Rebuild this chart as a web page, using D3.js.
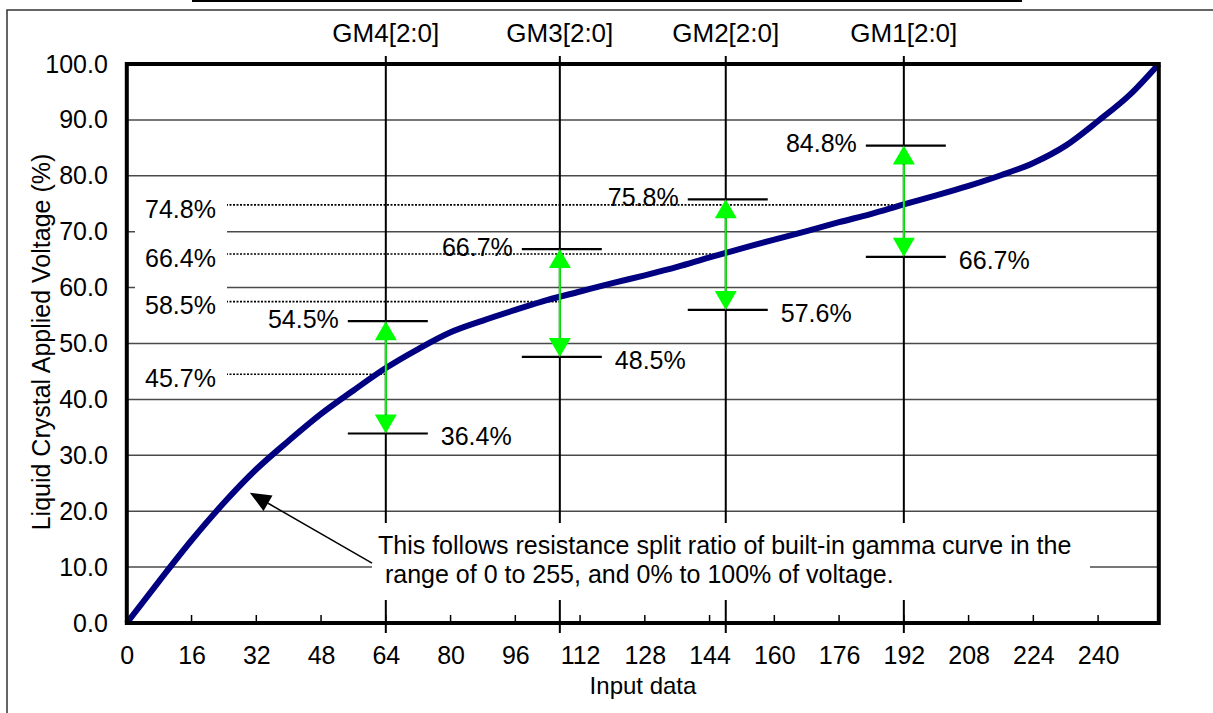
<!DOCTYPE html>
<html>
<head>
<meta charset="utf-8">
<script src="https://cdn.jsdelivr.net/npm/d3@7"></script>
<style>
  body { margin: 0; background: #fff; }
  svg { display: block; font-family: "Liberation Sans", Arial, sans-serif; }
</style>
</head>
<body>
<svg width="1213" height="713"></svg>
<script>
// DATA

var inputs   = [0, 8, 16, 24, 32, 40, 48, 56, 64, 72, 80, 88, 96, 104, 112, 120, 128, 136, 144,
                152, 160, 168, 176, 184, 192, 200, 208, 216, 224, 232, 240, 248, 255];
var voltages = [0, 7.5, 14.8, 21.5, 27.5, 32.6, 37.4, 41.6, 45.6, 49.0, 52.0, 54.1, 56.0, 57.8, 59.3,
                60.8, 62.2, 63.7, 65.4, 67.0, 68.6, 70.1, 71.7, 73.2, 74.9, 76.5, 78.2, 80.1, 82.3,
                85.4, 89.8, 94.6, 100];

var xTicks = [0, 16, 32, 48, 64, 80, 96, 112, 128, 144, 160, 176, 192, 208, 224, 240];
var yTicks = [0, 10, 20, 30, 40, 50, 60, 70, 80, 90, 100];

var gmNames     = ["GM4[2:0]", "GM3[2:0]", "GM2[2:0]", "GM1[2:0]"];
var gmInput     = [64, 107, 148, 192];
var gmHigh      = [54.0, 66.9, 75.8, 85.4];
var gmLow       = [33.9, 47.6, 56.0, 65.5];
var gmHighLabel = ["54.5%", "66.7%", "75.8%", "84.8%"];
var gmLowLabel  = ["36.4%", "48.5%", "57.6%", "66.7%"];

var refLabels = ["74.8%", "66.4%", "58.5%", "45.7%"];
var refValues = [74.8, 66.0, 57.5, 44.5];
var refEnds   = [192, 148, 107, 64];

var noteLines = ["This follows resistance split ratio of built-in gamma curve in the",
                 " range of 0 to 255, and 0% to 100% of voltage."];
var noteTip  = [30.4, 23.3];
var noteTail = [60.6, 10.7];

// SETUP

var svg = d3.select("svg");
var x = d3.scaleLinear().domain([0, 255]).range([126.8, 1158.8]);
var y = d3.scaleLinear().domain([0, 100]).range([623, 64]);
var font = 25;

// outer page frame
svg.append("line").attr("x1", 192).attr("x2", 1022).attr("y1", 1).attr("y2", 1)
  .attr("stroke", "#000").attr("stroke-width", 2);
svg.append("path").attr("d", "M7,720V10H1220")
  .attr("fill", "none").attr("stroke", "#333").attr("stroke-width", 1.5);

var g = svg.append("g");

// grid lines
g.selectAll(".grid").data(yTicks.slice(1, -1)).enter().append("line")
  .attr("class", "grid")
  .attr("x1", x(0)).attr("x2", x(255))
  .attr("y1", function (d) { return y(d); }).attr("y2", function (d) { return y(d); })
  .attr("stroke", "#4a4a4a").attr("stroke-width", 1.5);

// dotted reference lines
g.selectAll(".ref").data(refValues).enter().append("line")
  .attr("class", "ref")
  .attr("x1", 135).attr("x2", function (d, i) { return x(refEnds[i]); })
  .attr("y1", function (d) { return y(d); }).attr("y2", function (d) { return y(d); })
  .attr("stroke", "#000").attr("stroke-width", 1.6).attr("stroke-dasharray", "2,1.5");

// GM vertical lines
g.selectAll(".gm").data(gmInput).enter().append("line")
  .attr("class", "gm")
  .attr("x1", function (d) { return x(d); }).attr("x2", function (d) { return x(d); })
  .attr("y1", 56).attr("y2", 633)
  .attr("stroke", "#000").attr("stroke-width", 2);

// minor ticks on x axis
g.selectAll(".tick").data(xTicks.slice(1)).enter().append("line")
  .attr("x1", function (d) { return x(d); }).attr("x2", function (d) { return x(d); })
  .attr("y1", y(0) - 8).attr("y2", y(0))
  .attr("stroke", "#000").attr("stroke-width", 1.5);

// white boxes behind the left labels
g.selectAll(".refbox").data(refValues).enter().append("rect")
  .attr("x", 135).attr("width", 92)
  .attr("y", function (d) { return y(d) - 16; })
  .attr("height", function (d, i) { return i === 0 ? 46 : 34; })
  .attr("fill", "#fff");

g.selectAll(".reflabel").data(refLabels).enter().append("text")
  .attr("x", 145)
  .attr("y", function (d, i) { return y(refValues[i]) + 4; })
  .attr("dy", "0.35em")
  .style("font-size", font + "px")
  .text(function (d) { return d; });

// note box
var noteBox = { x: 372, y: 523, w: 718, h: 77 };
g.append("rect").attr("x", noteBox.x).attr("y", noteBox.y)
  .attr("width", noteBox.w).attr("height", noteBox.h).attr("fill", "#fff");
g.selectAll(".note").data(noteLines).enter().append("text")
  .attr("x", 378).attr("y", function (d, i) { return 554 + i * 29; })
  .attr("xml:space", "preserve")
  .style("font-size", font + "px")
  .text(function (d) { return d; });

// note arrow
var tip = [x(noteTip[0]), y(noteTip[1])], tail = [x(noteTail[0]), y(noteTail[1])];
var ang = Math.atan2(tip[1] - tail[1], tip[0] - tail[0]);
var hl = 21, hw = 9;
var bx = tip[0] - hl * Math.cos(ang), by = tip[1] - hl * Math.sin(ang);
g.append("line").attr("x1", tail[0]).attr("y1", tail[1]).attr("x2", bx).attr("y2", by)
  .attr("stroke", "#000").attr("stroke-width", 1.5);
g.append("path")
  .attr("d", "M" + tip[0] + "," + tip[1] +
    "L" + (bx + hw * Math.sin(ang)) + "," + (by - hw * Math.cos(ang)) +
    "L" + (bx - hw * Math.sin(ang)) + "," + (by + hw * Math.cos(ang)) + "Z")
  .attr("fill", "#000");

// gamma curve
var line = d3.line()
  .x(function (d, i) { return x(inputs[i]); })
  .y(function (d) { return y(d); })
  .curve(d3.curveMonotoneX);
g.append("path").datum(voltages)
  .attr("d", line)
  .attr("fill", "none").attr("stroke", "#000080").attr("stroke-width", 6)
  .attr("stroke-linejoin", "round");

// GM high / low marks
function marks(vals, cls) {
  g.selectAll("." + cls).data(vals).enter().append("line")
    .attr("class", cls)
    .attr("x1", function (d, i) { return x(gmInput[i]) - 38; })
    .attr("x2", function (d, i) { return x(gmInput[i]) + 42; })
    .attr("y1", function (d) { return y(d); }).attr("y2", function (d) { return y(d); })
    .attr("stroke", "#000").attr("stroke-width", 2.2);
}
marks(gmHigh, "hi");
marks(gmLow, "lo");

// green double arrows
var ah = 19, aw = 11, green = "#00ff00";
gmInput.forEach(function (d, i) {
  var cx = x(d), y1 = y(gmHigh[i]), y2 = y(gmLow[i]);
  g.append("line").attr("x1", cx).attr("x2", cx).attr("y1", y1 + ah).attr("y2", y2 - ah)
    .attr("stroke", green).attr("stroke-width", 2);
  g.append("path").attr("fill", green)
    .attr("d", "M" + cx + "," + y1 + "L" + (cx - aw) + "," + (y1 + ah) + "L" + (cx + aw) + "," + (y1 + ah) + "Z");
  g.append("path").attr("fill", green)
    .attr("d", "M" + cx + "," + y2 + "L" + (cx - aw) + "," + (y2 - ah) + "L" + (cx + aw) + "," + (y2 - ah) + "Z");
});

g.selectAll(".hilabel").data(gmHighLabel).enter().append("text")
  .attr("x", function (d, i) { return x(gmInput[i]) - 47; })
  .attr("y", function (d, i) { return y(gmHigh[i]) - 2; })
  .attr("dy", "0.35em").attr("text-anchor", "end")
  .style("font-size", font + "px")
  .text(function (d) { return d; });

g.selectAll(".lolabel").data(gmLowLabel).enter().append("text")
  .attr("x", function (d, i) { return x(gmInput[i]) + 55; })
  .attr("y", function (d, i) { return y(gmLow[i]) + 3; })
  .attr("dy", "0.35em")
  .style("font-size", font + "px")
  .text(function (d) { return d; });

g.selectAll(".gmlabel").data(gmNames).enter().append("text")
  .attr("x", function (d, i) { return x(gmInput[i]); })
  .attr("y", 42).attr("text-anchor", "middle")
  .style("font-size", "26px")
  .text(function (d) { return d; });

// plot frame
g.append("rect").attr("x", x(0)).attr("y", y(100))
  .attr("width", x(255) - x(0)).attr("height", y(0) - y(100))
  .attr("fill", "none").attr("stroke", "#000").attr("stroke-width", 4);

// axes labels
var xAxis = d3.axisBottom(x).tickValues(xTicks).tickSize(0).tickPadding(23);
g.append("g").attr("transform", "translate(0," + y(0) + ")").call(xAxis)
  .call(function (s) { s.select(".domain").remove(); })
  .selectAll("text").style("font-size", font + "px").style("font-family", "inherit").attr("fill", "#000");

var yAxis = d3.axisLeft(y).tickValues(yTicks).tickFormat(d3.format(".1f")).tickSize(0).tickPadding(19);
g.append("g").attr("transform", "translate(" + x(0) + ",0)").call(yAxis)
  .call(function (s) { s.select(".domain").remove(); })
  .selectAll("text").style("font-size", "25px").style("font-family", "inherit").attr("fill", "#000");

svg.append("text").attr("x", 643).attr("y", 694).attr("text-anchor", "middle")
  .style("font-size", "24px").text("Input data");

svg.append("text")
  .attr("transform", "translate(50,342) rotate(-90)")
  .attr("text-anchor", "middle")
  .style("font-size", "25px")
  .text("Liquid Crystal Applied Voltage (%)");
</script>
</body>
</html>
